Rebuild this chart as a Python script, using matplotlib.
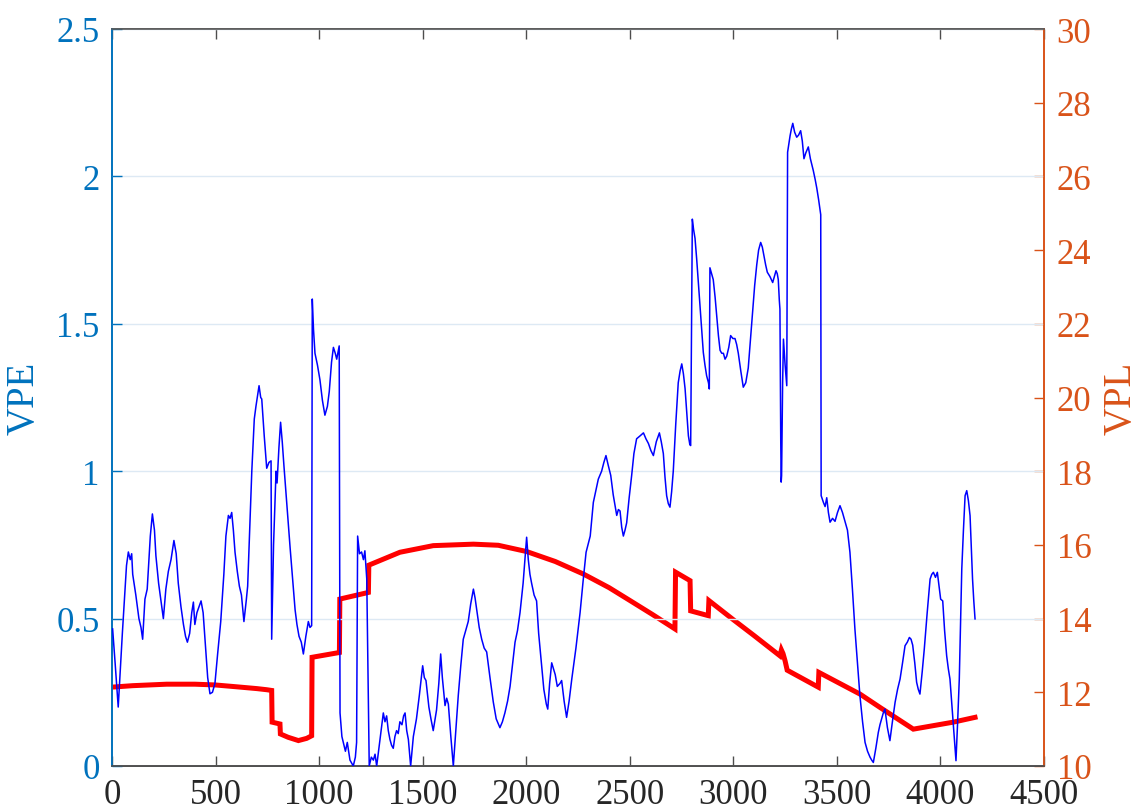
import matplotlib
matplotlib.use("Agg")
import matplotlib.pyplot as plt

plt.rcParams['font.family'] = ['Liberation Serif', 'DejaVu Serif']

# ---- data ----
vpe_x = [3, 15, 30, 50, 70, 79, 88, 95, 100, 115, 130, 140, 148, 159, 170, 185, 195, 205, 212, 225,
         240, 248, 260, 272, 285, 299, 310, 320, 333, 345, 355, 364, 375, 385, 393, 400, 410, 420, 430,
         440, 450, 462, 473, 485, 497, 510, 525, 540, 550, 562, 570, 578, 586, 594, 605, 615, 625, 637,
         648, 655, 665, 675, 687, 695, 710, 718, 723, 735, 747, 758, 768, 771, 780, 792, 797, 806, 814,
         822, 830, 845, 860, 872, 884, 893, 903, 914, 924, 936, 948, 956, 964, 967, 973, 980, 992, 1004,
         1016, 1028, 1040, 1049, 1060, 1069, 1078, 1085, 1097, 1101, 1110, 1117, 1127, 1136, 1149, 1165,
         1175, 1181, 1186, 1195, 1205, 1214, 1221, 1230, 1242, 1252, 1262, 1270, 1278, 1294, 1310, 1318,
         1326, 1334, 1342, 1350, 1358, 1366, 1374, 1382, 1390, 1400, 1408, 1415, 1423, 1431, 1442, 1455,
         1470, 1484, 1500, 1508, 1516, 1530, 1540, 1551, 1567, 1578, 1587, 1595, 1608, 1616, 1624, 1636,
         1648, 1660, 1672, 1684, 1696, 1708, 1720, 1732, 1745, 1753, 1761, 1773, 1785, 1797, 1809, 1825,
         1841, 1855, 1873, 1885, 1897, 1910, 1922, 1935, 1946, 1958, 1970, 1985, 2002, 2010, 2018, 2026,
         2038, 2050, 2060, 2070, 2085, 2097, 2104, 2113, 2123, 2140, 2150, 2163, 2171, 2183, 2195, 2207,
         2220, 2240, 2260, 2275, 2289, 2309, 2324, 2335, 2348, 2364, 2375, 2385, 2396, 2408, 2420, 2437,
         2445, 2453, 2461, 2469, 2477, 2485, 2497, 2509, 2520, 2533, 2550, 2566, 2578, 2590, 2602, 2614,
         2628, 2643, 2652, 2662, 2670, 2678, 2686, 2694, 2702, 2710, 2722, 2734, 2743, 2751, 2759, 2767,
         2775, 2783, 2790, 2794, 2802, 2808, 2815, 2823, 2831, 2843, 2855, 2863, 2871, 2880, 2884, 2887,
         2895, 2903, 2912, 2920, 2928, 2936, 2944, 2952, 2960, 2968, 2978, 2987, 2998, 3008, 3016, 3024,
         3036, 3048, 3060, 3072, 3083, 3093, 3103, 3113, 3122, 3132, 3140, 3148, 3156, 3164, 3177, 3190,
         3198, 3206, 3212, 3217, 3222, 3225, 3229, 3231, 3233, 3238, 3242, 3250, 3258, 3262, 3268, 3274,
         3280, 3287, 3296, 3306, 3315, 3325, 3333, 3341, 3350, 3362, 3372, 3386, 3395, 3403, 3412, 3422,
         3424, 3435, 3443, 3451, 3459, 3467, 3479, 3491, 3503, 3515, 3527, 3539, 3551, 3563, 3575, 3587,
         3599, 3611, 3624, 3636, 3648, 3660, 3668, 3676, 3688, 3700, 3708, 3716, 3724, 3732, 3744, 3756,
         3768, 3781, 3793, 3805, 3817, 3829, 3840, 3850, 3858, 3866, 3876, 3885, 3893, 3901, 3912, 3922,
         3936, 3950, 3958, 3966, 3976, 3985, 3993, 4001, 4011, 4020, 4030, 4038, 4046, 4060, 4075, 4083,
         4091, 4097, 4103, 4111, 4119, 4127, 4135, 4143, 4149, 4155, 4161, 4167]
vpe_y = [0.465, 0.35, 0.20, 0.45, 0.68, 0.726, 0.70, 0.72, 0.65, 0.58, 0.50, 0.47, 0.43, 0.566, 0.60, 0.78,
         0.855, 0.80, 0.713, 0.62, 0.54, 0.50, 0.60, 0.66, 0.70, 0.765, 0.72, 0.62, 0.54, 0.48, 0.44, 0.42,
         0.45, 0.52, 0.556, 0.48, 0.52, 0.54, 0.56, 0.52, 0.42, 0.30, 0.245, 0.25, 0.28, 0.38, 0.49, 0.65,
         0.78, 0.85, 0.84, 0.86, 0.80, 0.725, 0.66, 0.61, 0.58, 0.49, 0.56, 0.61, 0.80, 1.0, 1.177, 1.22,
         1.29, 1.25, 1.245, 1.12, 1.01, 1.03, 1.035, 0.43, 0.75, 1.0, 0.96, 1.08, 1.166, 1.10, 1.02, 0.88,
         0.74, 0.635, 0.53, 0.48, 0.44, 0.42, 0.38, 0.44, 0.49, 0.47, 0.476, 1.584, 1.48, 1.40, 1.36, 1.31,
         1.24, 1.19, 1.22, 1.27, 1.37, 1.42, 1.40, 1.38, 1.425, 0.18, 0.10, 0.08, 0.05, 0.08, 0.02, 0.0,
         0.03, 0.08, 0.78, 0.72, 0.726, 0.70, 0.73, 0.635, 0.0, 0.03, 0.02, 0.04, 0.0, 0.09, 0.18, 0.15,
         0.17, 0.12, 0.09, 0.07, 0.06, 0.10, 0.12, 0.11, 0.15, 0.14, 0.17, 0.18, 0.12, 0.09, 0.0, 0.1,
         0.16, 0.24, 0.34, 0.30, 0.29, 0.20, 0.16, 0.12, 0.19, 0.28, 0.38, 0.30, 0.205, 0.23, 0.21, 0.10,
         0.0, 0.12, 0.24, 0.34, 0.43, 0.46, 0.49, 0.55, 0.60, 0.57, 0.53, 0.47, 0.43, 0.40, 0.387, 0.30,
         0.217, 0.16, 0.13, 0.15, 0.18, 0.22, 0.27, 0.35, 0.42, 0.46, 0.52, 0.62, 0.776, 0.70, 0.65, 0.62,
         0.58, 0.56, 0.45, 0.374, 0.26, 0.21, 0.193, 0.28, 0.35, 0.31, 0.27, 0.28, 0.29, 0.22, 0.165, 0.22,
         0.295, 0.40, 0.52, 0.63, 0.725, 0.78, 0.894, 0.93, 0.973, 1.0, 1.03, 1.053, 1.02, 0.986, 0.92,
         0.85, 0.87, 0.865, 0.81, 0.78, 0.80, 0.825, 0.91, 0.985, 1.06, 1.11, 1.12, 1.13, 1.11, 1.094,
         1.07, 1.053, 1.10, 1.13, 1.10, 1.06, 0.98, 0.917, 0.89, 0.878, 0.93, 1.0, 1.16, 1.30, 1.34, 1.364,
         1.33, 1.28, 1.20, 1.12, 1.09, 1.087, 1.855, 1.82, 1.79, 1.72, 1.64, 1.52, 1.403, 1.36, 1.324, 1.30,
         1.279, 1.69, 1.67, 1.65, 1.59, 1.527, 1.46, 1.41, 1.40, 1.40, 1.38, 1.39, 1.42, 1.46, 1.45, 1.45,
         1.43, 1.40, 1.34, 1.285, 1.30, 1.35, 1.45, 1.54, 1.63, 1.70, 1.75, 1.776, 1.76, 1.73, 1.70, 1.675,
         1.66, 1.64, 1.66, 1.68, 1.67, 1.65, 1.58, 1.55, 1.10, 0.963, 0.985, 1.30, 1.448, 1.36, 1.29, 2.082,
         2.11, 2.138, 2.16, 2.18, 2.15, 2.133, 2.14, 2.155, 2.12, 2.06, 2.08, 2.10, 2.06, 2.02, 1.99, 1.96,
         1.92, 1.87, 0.917, 0.894, 0.88, 0.91, 0.86, 0.827, 0.84, 0.83, 0.86, 0.883, 0.86, 0.83, 0.80,
         0.725, 0.60, 0.465, 0.35, 0.24, 0.15, 0.08, 0.05, 0.03, 0.02, 0.012, 0.06, 0.114, 0.14, 0.16,
         0.18, 0.193, 0.13, 0.086, 0.15, 0.216, 0.26, 0.295, 0.35, 0.408, 0.42, 0.436, 0.43, 0.41, 0.35,
         0.284, 0.26, 0.244, 0.32, 0.397, 0.52, 0.634, 0.65, 0.657, 0.64, 0.657, 0.61, 0.566, 0.56, 0.46,
         0.374, 0.33, 0.295, 0.16, 0.018, 0.15, 0.295, 0.48, 0.668, 0.80, 0.917, 0.934, 0.90, 0.849, 0.74,
         0.634, 0.56, 0.499]

vpl_x = [0, 100, 264, 400, 497, 600, 700, 747, 771, 773, 811, 813, 850, 900, 940, 964, 966, 1098, 1100,
         1238, 1240, 1390, 1551, 1745, 1865, 2002, 2140, 2276, 2400, 2501, 2610, 2718, 2721, 2791, 2794,
         2879, 2882, 3000, 3100, 3225, 3232, 3240, 3250, 3256, 3260, 3410, 3413, 3612, 3708, 3869, 4062,
         4167]
vpl_y = [12.14, 12.18, 12.22, 12.22, 12.20, 12.15, 12.10, 12.07, 12.05, 11.19, 11.14, 10.87, 10.78, 10.69,
         10.75, 10.82, 12.95, 13.08, 14.53, 14.71, 15.45, 15.80, 15.98, 16.02, 15.99, 15.82, 15.55, 15.21,
         14.84, 14.49, 14.11, 13.72, 15.26, 15.03, 14.21, 14.08, 14.49, 13.97, 13.54, 12.99, 13.15, 13.05,
         12.85, 12.70, 12.60, 12.14, 12.54, 11.95, 11.59, 11.0, 11.19, 11.32]

x_ticks = [0, 500, 1000, 1500, 2000, 2500, 3000, 3500, 4000, 4500]
vpe_ticks = [0, 0.5, 1, 1.5, 2, 2.5]
vpe_labels = ['0', '0.5', '1', '1.5', '2', '2.5']
vpl_ticks = [10, 12, 14, 16, 18, 20, 22, 24, 26, 28, 30]

# ---- styling ----
C_LEFT = '#0072BD'
C_RIGHT = '#D95319'
C_AX = '#262626'
FS = 25
LFS = 28

fig = plt.figure(figsize=(11.40, 8.12), dpi=100)
ax = fig.add_axes([112/1140, 45/812, (1044-112)/1140, (767-30)/812])
ax2 = ax.twinx()

# blue drawn on top of red
ax.set_zorder(ax2.get_zorder() + 1)
ax.patch.set_visible(False)

ax2.plot(vpl_x, vpl_y, color='#FF0000', lw=3.6, solid_joinstyle='miter', zorder=2)
ax.plot(vpe_x, vpe_y, color='#0000FF', lw=1.1, zorder=3)

ax.set_xlim(0, 4500)
ax.set_ylim(0, 2.5)
ax2.set_ylim(10, 30)
ax.set_xticks(x_ticks)
ax.set_yticks(vpe_ticks)
ax.set_yticklabels(vpe_labels)
ax2.set_yticks(vpl_ticks)

# grid: vertical gray, horizontal light blue
ax2.set_xticks(x_ticks)
ax2.grid(True, axis='x', color='#d9d9d9', lw=1.0)
ax.grid(True, axis='y', color='#dde9f4', lw=1.0)
ax2.set_axisbelow(True)

ax.tick_params(axis='x', direction='in', length=7, width=1, top=True, bottom=True,
               colors='#4d4d4d', labelcolor=C_AX, labelsize=FS, pad=9)
ax.tick_params(axis='y', direction='in', length=7, width=1, left=True, right=False,
               colors=C_LEFT, labelcolor=C_LEFT, labelsize=FS, pad=9)
ax2.tick_params(axis='y', direction='in', length=7, width=1, left=False, right=True,
                colors=C_RIGHT, labelcolor=C_RIGHT, labelsize=FS, pad=9)
ax2.tick_params(axis='x', which='both', bottom=False, top=False, labelbottom=False)

for a in (ax, ax2):
    a.spines['top'].set_color('#5a5a5a')
    a.spines['bottom'].set_color('#4d4d4d')
    a.spines['left'].set_color(C_LEFT)
    a.spines['right'].set_color(C_RIGHT)
    for s in a.spines.values():
        s.set_linewidth(1.2)

ax.set_ylabel('VPE', color=C_LEFT, fontsize=LFS, labelpad=10)
ax2.set_ylabel('VPL', color=C_RIGHT, fontsize=LFS, labelpad=8)

fig.savefig('out.png', dpi=100)
